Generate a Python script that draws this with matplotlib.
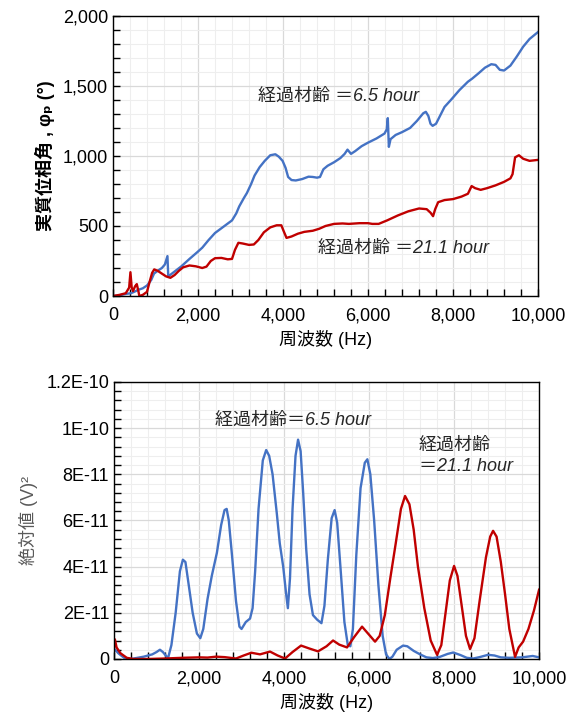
import matplotlib
matplotlib.use('Agg')
import matplotlib.pyplot as plt
from matplotlib.ticker import MultipleLocator, FixedLocator, FixedFormatter

plt.rcParams['font.family'] = ['Liberation Sans', 'Noto Sans CJK JP', 'DejaVu Sans']

# ---- top chart: phase angle (deg) vs frequency (Hz) ----
phase_65_f = [0, 150, 300, 420, 500, 600, 700, 800, 900, 965, 1050, 1150, 1220, 1281, 1300,
              1450, 1600, 1800, 1990, 2100, 2250, 2400, 2600, 2800, 2900, 2970, 3080, 3150,
              3250, 3330, 3450, 3570, 3700, 3820, 3900, 3990, 4060, 4120, 4200, 4300, 4450,
              4600, 4700, 4800, 4870, 4950, 5050, 5200, 5350, 5450, 5517, 5600, 5700, 5850,
              6000, 6200, 6388, 6440, 6465, 6490, 6530, 6650, 6800, 6990, 7150, 7300, 7360,
              7420, 7470, 7520, 7600, 7700, 7800, 7950, 8150, 8350, 8450, 8600, 8750, 8900,
              9000, 9100, 9200, 9350, 9500, 9650, 9800, 10000]
phase_65 = [0, 5, 15, 20, 30, 45, 55, 75, 115, 160, 180, 200, 225, 285, 140,
            175, 210, 265, 315, 345, 400, 450, 495, 540, 590, 640, 700, 735,
            800, 860, 920, 965, 1005, 1012, 995, 965, 915, 850, 828, 825, 835,
            852, 850, 845, 850, 905, 930, 955, 985, 1015, 1045, 1015, 1035, 1070,
            1095, 1125, 1160, 1190, 1270, 1065, 1120, 1150, 1170, 1200, 1250, 1305, 1315,
            1285, 1230, 1215, 1230, 1290, 1350, 1400, 1470, 1530, 1552, 1590, 1630, 1655,
            1650, 1615, 1610, 1645, 1710, 1780, 1835, 1885]

phase_211_f = [0, 150, 300, 380, 410, 440, 470, 520, 560, 600, 620, 700, 800, 860, 920, 970,
               1050, 1150, 1250, 1350, 1450, 1550, 1650, 1800, 1950, 2100, 2200, 2300, 2400,
               2550, 2700, 2800, 2870, 2950, 3050, 3200, 3313, 3420, 3550, 3700, 3850, 3960,
               4020, 4082, 4200, 4350, 4500, 4700, 4850, 5000, 5200, 5400, 5550, 5800, 6000,
               6100, 6250, 6450, 6700, 6950, 7200, 7380, 7470, 7530, 7580, 7650, 7800, 8000,
               8200, 8350, 8437, 8520, 8650, 8800, 9000, 9200, 9350, 9400, 9460, 9550, 9650,
               9800, 10000]
phase_211 = [0, 8, 20, 60, 170, 60, 35, 70, 85, 30, 0, 8, 30, 100, 165, 190,
             180, 160, 140, 130, 150, 180, 205, 218, 212, 200, 210, 250, 270,
             272, 262, 265, 330, 380, 375, 365, 368, 400, 455, 490, 505, 505,
             460, 415, 425, 445, 458, 466, 480, 500, 515, 518, 515, 520, 520,
             515, 515, 540, 575, 605, 625, 620, 595, 570, 620, 670, 685, 692,
             710, 730, 785, 770, 758, 770, 790, 815, 840, 870, 990, 1005, 980,
             965, 972]

# ---- bottom chart: magnitude (V^2, in units of 1E-11) ----
amp_65_f = [0, 100, 250, 400, 700, 900, 1000, 1080, 1150, 1270, 1350, 1450, 1550, 1620, 1680,
            1750, 1850, 1950, 2030, 2100, 2200, 2300, 2420, 2520, 2600, 2650, 2700, 2780,
            2870, 2950, 3000, 3100, 3200, 3260, 3320, 3400, 3500, 3580, 3650, 3730, 3830,
            3900, 3980, 4050, 4090, 4140, 4200, 4270, 4330, 4390, 4450, 4520, 4600, 4680,
            4780, 4880, 4950, 5030, 5120, 5190, 5250, 5330, 5420, 5500, 5560, 5620, 5700,
            5800, 5900, 5960, 6030, 6120, 6220, 6320, 6400, 6480, 6550, 6650, 6800, 6900,
            7050, 7200, 7350, 7500, 7650, 7850, 7980, 8150, 8300, 8450, 8600, 8800, 8950,
            9100, 9300, 9600, 9850, 10000]
amp_65 = [0.45, 0.25, 0.03, 0, 0.1, 0.2, 0.3, 0.4, 0.3, 0.03, 0.6, 2.0, 3.8, 4.3, 4.2,
          3.3, 2.0, 1.1, 0.9, 1.3, 2.6, 3.6, 4.6, 5.8, 6.45, 6.5, 6.0, 4.4,
          2.5, 1.4, 1.3, 1.6, 1.75, 2.2, 3.8, 6.5, 8.6, 9.05, 8.8, 8.0, 6.3,
          5.0, 4.0, 2.8, 2.2, 3.5, 6.5, 8.8, 9.5, 9.0, 7.2, 4.8, 2.8, 1.9,
          1.7, 1.55, 2.3, 4.3, 6.1, 6.45, 5.9, 3.9, 1.6, 0.6, 0.55, 1.3, 4.5,
          7.4, 8.5, 8.65, 8.0, 6.0, 3.2, 1.0, 0.2, 0.0, 0.1, 0.4, 0.58, 0.55,
          0.35, 0.2, 0.07, 0.04, 0.08, 0.22, 0.28, 0.17, 0.05, 0.02, 0.08, 0.18, 0.15,
          0.07, 0.05, 0.07, 0.13, 0.07]

amp_211_f = [0, 20, 60, 150, 300, 450, 800, 1200, 1600, 2000, 2200, 2400, 2600, 2870, 3050,
             3230, 3435, 3670, 3850, 4024, 4200, 4400, 4600, 4800, 5000, 5153, 5300, 5482,
             5650, 5835, 6000, 6141, 6250, 6371, 6500, 6627, 6750, 6847, 6950, 7050, 7150,
             7300, 7450, 7600, 7700, 7800, 7900, 8000, 8080, 8180, 8280, 8376, 8480, 8600,
             8750, 8850, 8918, 9000, 9100, 9200, 9300, 9435, 9520, 9624, 9750, 9880, 10000]
amp_211 = [0.5, 0.85, 0.5, 0.25, 0.05, 0, 0, 0.02, 0.05, 0.07, 0.06, 0.1, 0.08, 0.02, 0.15,
           0.27, 0.2, 0.32, 0.15, 0.02, 0.3, 0.58, 0.45, 0.33, 0.55, 0.8, 0.62, 0.5,
           0.95, 1.4, 1.05, 0.75, 1.0, 1.9, 3.5, 5.0, 6.5, 7.06, 6.7, 5.6, 4.0,
           2.2, 0.8, 0.18, 0.6, 2.0, 3.4, 4.03, 3.6, 2.3, 1.0, 0.43, 0.9, 2.5,
           4.4, 5.3, 5.55, 5.3, 4.2, 2.8, 1.3, 0.09, 0.5, 0.75, 1.3, 2.1, 3.0]

x_ticks = [0, 2000, 4000, 6000, 8000, 10000]
x_labels = ['0', '2,000', '4,000', '6,000', '8,000', '10,000']
top_y_ticks = [0, 500, 1000, 1500, 2000]
top_y_labels = ['0', '500', '1,000', '1,500', '2,000']
bot_y_ticks = [0, 2e-11, 4e-11, 6e-11, 8e-11, 1e-10, 1.2e-10]
bot_y_labels = ['0', '2E-11', '4E-11', '6E-11', '8E-11', '1E-10', '1.2E-10']

BLUE = '#4472C4'
RED = '#C00000'

fig = plt.figure(figsize=(5.69, 7.22), dpi=100)
ax1 = fig.add_axes([0.1986, 0.590, 0.747, 0.388])
ax2 = fig.add_axes([0.2004, 0.0873, 0.747, 0.3837])


def style_axis(ax, ymax, yminor, yticks, ylabels):
    ax.set_xlim(0, 10000)
    ax.set_ylim(0, ymax)
    ax.xaxis.set_major_locator(FixedLocator(x_ticks))
    ax.xaxis.set_major_formatter(FixedFormatter(x_labels))
    ax.xaxis.set_minor_locator(MultipleLocator(400))
    ax.yaxis.set_major_locator(FixedLocator(yticks))
    ax.yaxis.set_major_formatter(FixedFormatter(ylabels))
    ax.yaxis.set_minor_locator(MultipleLocator(yminor))
    ax.grid(which='major', color='#d9d9d9', lw=0.9)
    ax.grid(which='minor', color='#eeeeee', lw=0.8)
    ax.set_axisbelow(True)
    ax.tick_params(which='both', direction='in', labelsize=13, colors='black', width=1)
    ax.tick_params(which='major', length=5)
    ax.tick_params(which='minor', length=5)
    ax.tick_params(axis='x', pad=8)
    for s in ax.spines.values():
        s.set_color('black')
        s.set_linewidth(1.0)
    ax.set_xlabel('周波数 (Hz)', fontsize=13, labelpad=4)


# top chart
ax1.plot(phase_65_f, phase_65, color=BLUE, lw=1.7)
ax1.plot(phase_211_f, phase_211, color=RED, lw=1.7)
style_axis(ax1, 2000, 100, top_y_ticks, top_y_labels)
ax1.set_ylabel('実質位相角 , φₚ (°)', fontsize=13, fontweight='bold', labelpad=6)
ax1.text(3400, 1428, '経過材齢 ＝6.5 hour', fontsize=13, style='italic',
         color='#262626', va='center')
ax1.text(4820, 343, '経過材齢 ＝21.1 hour', fontsize=13, style='italic',
         color='#262626', va='center')

# bottom chart
amp_65_v = [v * 1e-11 for v in amp_65]
amp_211_v = [v * 1e-11 for v in amp_211]
ax2.plot(amp_65_f, amp_65_v, color=BLUE, lw=1.7)
ax2.plot(amp_211_f, amp_211_v, color=RED, lw=1.7)
style_axis(ax2, 1.2e-10, 4e-12, bot_y_ticks, bot_y_labels)
ax2.set_ylabel('絶対値 (V)²', fontsize=13, color='#595959', labelpad=6)
ax2.text(2370, 10.35e-11, '経過材齢＝6.5 hour', fontsize=13, style='italic',
         color='#262626', va='center')
ax2.text(7170, 8.8e-11, '経過材齢\n＝21.1 hour', fontsize=13, style='italic',
         color='#262626', va='center', linespacing=1.3)

fig.savefig('out.png', dpi=100)
